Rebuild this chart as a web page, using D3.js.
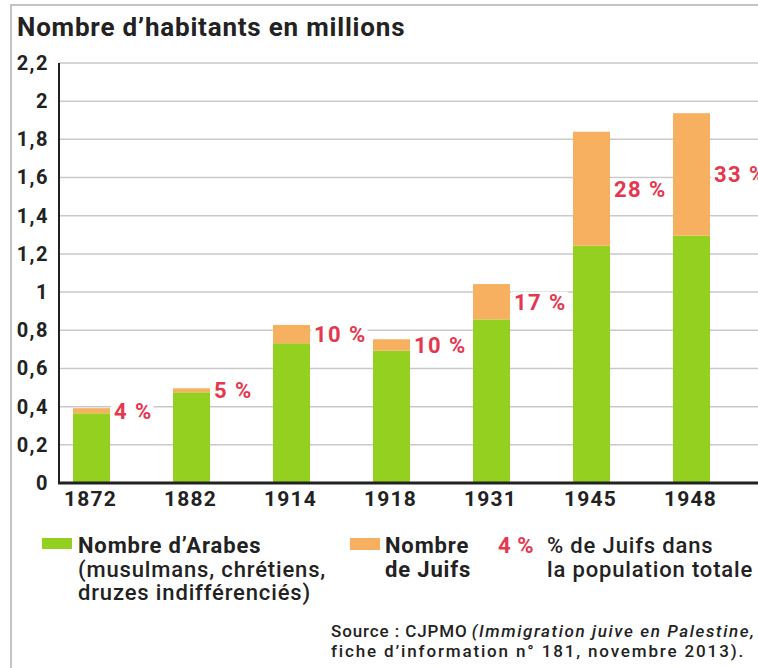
<!DOCTYPE html>
<html>
<head>
<meta charset="utf-8">
<script src="https://cdn.jsdelivr.net/npm/d3@7"></script>
<style>
  html, body { margin: 0; padding: 0; background: #fff; }
  svg { display: block; }
  text { font-family: Roboto, "Noto Sans", sans-serif; }
</style>
</head>
<body>
<svg id="chart" width="758" height="668"></svg>
<script>
// ---- data ----
const years = ["1872", "1882", "1914", "1918", "1931", "1945", "1948"];
const arabs = [0.365, 0.475, 0.732, 0.693, 0.857, 1.243, 1.296];
const jews  = [0.027, 0.021, 0.096, 0.060, 0.185, 0.597, 0.641];
const pctLabels = ["4 %", "5 %", "10 %", "10 %", "17 %", "28 %", "33 %"];
const yTicks = [0, 0.2, 0.4, 0.6, 0.8, 1, 1.2, 1.4, 1.6, 1.8, 2, 2.2];

const titleText = "Nombre d\u2019habitants en millions";
const legendArabs = ["Nombre d\u2019Arabes", "(musulmans, chr\u00e9tiens,", "druzes indiff\u00e9renci\u00e9s)"];
const legendJews = ["Nombre", "de Juifs"];
const legendPct = ["% de Juifs dans", "la population totale"];
const sourceA = "Source : CJPMO";
const sourceB = "(Immigration juive en Palestine,";
const sourceC = "fiche d\u2019information n\u00b0 181, novembre 2013).";

// ---- style ----
const GREEN = "#93d01f";
const ORANGE = "#f6b05f";
const RED = "#e5384f";
const INK = "#222222";
const GRID = "#c9c9c9";

const svg = d3.select("#chart");
const W = 758, H = 668;

svg.append("rect").attr("width", W).attr("height", H).attr("fill", "#fff");
// frame
svg.append("rect").attr("x", 11).attr("y", 5).attr("width", 800).attr("height", 700)
  .attr("fill", "none").attr("stroke", "#c4c4c4").attr("stroke-width", 2);

const x0 = 59, xEnd = 758;
const y = d3.scaleLinear().domain([0, 2.2]).range([483, 63]);
const x = d3.scaleBand().domain(years).range([41.5, 741.5]).paddingInner(0.63).paddingOuter(0.315);

// title
svg.append("text").attr("x", 17).attr("y", 36)
  .attr("font-size", 26).attr("font-weight", 700).attr("fill", INK)
  .attr("letter-spacing", 0.8)
  .text(titleText);

// gridlines
svg.append("g").selectAll("line").data(yTicks.filter(d => d > 0)).join("line")
  .attr("x1", x0).attr("x2", xEnd)
  .attr("y1", d => y(d)).attr("y2", d => y(d))
  .attr("stroke", GRID).attr("stroke-width", 1.5);

// y axis
const fmt = d => String(d).replace(".", ",");
const yAxis = svg.append("g").attr("transform", `translate(${x0},0)`)
  .call(d3.axisLeft(y).tickValues(yTicks).tickSize(0).tickPadding(10).tickFormat(fmt));
yAxis.select(".domain").remove();
yAxis.selectAll("text").attr("font-size", 20).attr("font-weight", 700).attr("fill", INK)
  .attr("font-family", "Roboto, sans-serif").attr("letter-spacing", 1.5);

// bars
const gBars = svg.append("g");
years.forEach((yr, i) => {
  gBars.append("rect").attr("x", x(yr)).attr("width", x.bandwidth())
    .attr("y", y(arabs[i])).attr("height", y(0) - y(arabs[i])).attr("fill", GREEN);
  gBars.append("rect").attr("x", x(yr)).attr("width", x.bandwidth())
    .attr("y", y(arabs[i] + jews[i])).attr("height", y(arabs[i]) - y(arabs[i] + jews[i])).attr("fill", ORANGE);
});

// percentage labels
const gLab = svg.append("g");
years.forEach((yr, i) => {
  const cy = y(arabs[i] + jews[i] / 2);
  const lx = x(yr) + x.bandwidth() + 4;
  const t = gLab.append("text").attr("x", lx).attr("y", cy)
    .attr("dy", "0.36em")
    .attr("font-size", 22).attr("font-weight", 700).attr("fill", RED)
    .attr("letter-spacing", 1.4)
    .text(pctLabels[i]);
  const bb = t.node().getBBox();
  gLab.insert("rect", "text").attr("x", bb.x - 3).attr("y", bb.y + 2).attr("width", bb.width + 4).attr("height", bb.height - 4)
    .attr("fill", "#fff");
});

// axes lines
svg.append("line").attr("x1", x0).attr("x2", x0).attr("y1", 63).attr("y2", 484)
  .attr("stroke", INK).attr("stroke-width", 2);
svg.append("line").attr("x1", x0 - 1).attr("x2", xEnd).attr("y1", 483).attr("y2", 483)
  .attr("stroke", INK).attr("stroke-width", 3);

// x axis labels
const xAxis = svg.append("g").attr("transform", `translate(0,483)`)
  .call(d3.axisBottom(x).tickSize(0).tickPadding(8));
xAxis.select(".domain").remove();
xAxis.selectAll("text").attr("font-size", 21).attr("font-weight", 700).attr("fill", INK)
  .attr("font-family", "Roboto, sans-serif").attr("letter-spacing", 1.2).attr("dx", -1);

// legend
const lg = svg.append("g");
lg.append("rect").attr("x", 42).attr("y", 538).attr("width", 30).attr("height", 11).attr("fill", GREEN);
lg.append("rect").attr("x", 350).attr("y", 538).attr("width", 30).attr("height", 12).attr("fill", ORANGE);
const lfs = 22, lls = 0.85;
legendArabs.forEach((s, i) => {
  lg.append("text").attr("x", 78).attr("y", 553 + i * 23.5)
    .attr("font-size", lfs).attr("font-weight", i === 0 ? 700 : 500).attr("fill", INK)
    .attr("letter-spacing", lls).text(s);
});
legendJews.forEach((s, i) => {
  lg.append("text").attr("x", 385).attr("y", 553 + i * 23.5)
    .attr("font-size", lfs).attr("font-weight", 700).attr("fill", INK)
    .attr("letter-spacing", lls).text(s);
});
lg.append("text").attr("x", 498).attr("y", 553)
  .attr("font-size", lfs).attr("font-weight", 700).attr("fill", RED)
  .attr("letter-spacing", 0.6).text(pctLabels[0]);
legendPct.forEach((s, i) => {
  lg.append("text").attr("x", 547).attr("y", 553 + i * 23.5)
    .attr("font-size", lfs).attr("font-weight", 500).attr("fill", INK)
    .attr("letter-spacing", lls).text(s);
});

// source
const sfs = 17;
const sA = svg.append("text").attr("x", 331).attr("y", 637)
  .attr("font-size", sfs).attr("font-weight", 500).attr("fill", INK)
  .attr("letter-spacing", 0.9).text(sourceA);
const sAw = sA.node().getComputedTextLength();
svg.append("text").attr("x", 331 + sAw + 4).attr("y", 637)
  .attr("font-size", sfs).attr("font-weight", 500).attr("font-style", "italic").attr("fill", INK)
  .attr("letter-spacing", 1.6).text(sourceB);
svg.append("text").attr("x", 331).attr("y", 657)
  .attr("font-size", sfs).attr("font-weight", 500).attr("fill", INK)
  .attr("letter-spacing", 1.85).text(sourceC);
</script>
</body>
</html>
